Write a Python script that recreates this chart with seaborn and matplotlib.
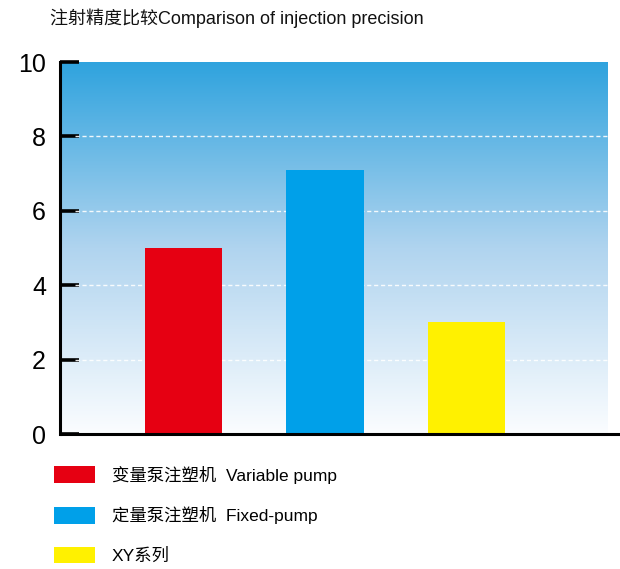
import numpy as np
import pandas as pd
import seaborn as sns
import matplotlib.pyplot as plt
from matplotlib.colors import LinearSegmentedColormap
from matplotlib.patches import Patch

# data
categories = ["变量泵注塑机  Variable pump", "定量泵注塑机  Fixed-pump", "XY系列"]
values = [5.0, 7.1, 3.0]
colors = ["#e60012", "#00a0e9", "#fff100"]
yticks = [0, 2, 4, 6, 8, 10]

sns.set_theme(style="white")
fonts = ["Liberation Sans", "Noto Sans CJK SC", "DejaVu Sans"]
plt.rcParams["font.family"] = fonts
plt.rcParams["text.color"] = "black"
plt.rcParams["ytick.color"] = "black"

df = pd.DataFrame({"cat": categories, "val": values})

fig = plt.figure(figsize=(6.2, 5.69), dpi=100)
ax = fig.add_axes([60 / 620, 1 - 434 / 569, 548 / 620, 372 / 569])

sns.barplot(data=df, x="cat", y="val", hue="cat", palette=colors,
            width=0.545, saturation=1, legend=False, ax=ax, zorder=3,
            linewidth=0, edgecolor="none")

xmin, xmax = -0.873, 3.0
ax.set_xlim(xmin, xmax)
ax.set_ylim(0, 10)

# gradient background
cmap = LinearSegmentedColormap.from_list("bg", ["#fbfdff", "#b0d4ef", "#2fa3de"])
grad = np.linspace(0, 1, 256).reshape(-1, 1)
ax.imshow(grad, cmap=cmap, aspect="auto", origin="lower",
          extent=[xmin, xmax, 0, 10], zorder=0)

for y in yticks[1:-1]:
    ax.axhline(y, xmin=0.027, color="white", lw=1, ls=(0, (3, 2)), alpha=0.9, zorder=1)

for s in ["top", "right", "bottom"]:
    ax.spines[s].set_visible(False)
ax.spines["left"].set_color("black")
ax.spines["left"].set_linewidth(2.2)
ax.plot([xmin, 3.09], [0, 0], color="black", lw=2.2, clip_on=False, zorder=4)

ax.set_yticks(yticks)
ax.tick_params(axis="y", direction="in", length=14, width=2.6, color="black",
               labelsize=18, pad=10, left=True, labelcolor="black")
ax.set_xticks([])
ax.set_xlabel("")
ax.set_ylabel("")

fig.text(50 / 620, 1 - 18 / 569, "注射精度比较Comparison of injection precision",
         fontsize=13, va="center", ha="left", color="#111111")

handles = [Patch(facecolor=c, edgecolor="none") for c in colors]
fig.legend(handles, categories, loc="upper left",
           bbox_to_anchor=(38 / 620, 1 - 450 / 569), frameon=False,
           fontsize=12.5, handlelength=2.4, handleheight=1.1,
           labelspacing=1.3, handletextpad=0.95)

fig.savefig("out.png", dpi=100)
